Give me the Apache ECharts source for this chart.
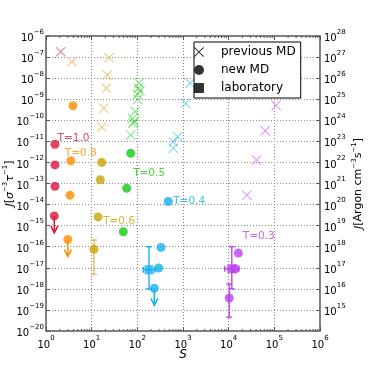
<!DOCTYPE html>
<html>
<head>
<meta charset="utf-8">
<script src="https://cdn.jsdelivr.net/npm/echarts@6/dist/echarts.min.js"></script>
<style>
  html, body { margin: 0; padding: 0; background: #fff; }
  #chart { width: 368px; height: 368px; }
</style>
</head>
<body>
<div id="chart"></div>
<script>
// temperature -> colour
const temps = ['1.0', '0.8', '0.6', '0.5', '0.4', '0.3']
const tempColors = ['#DC143C', '#FF8C00', '#C9A400', '#11CC11', '#11B0EE', '#B940EE']

// [T, S, J]
const previousMD = [
    ['1.0', 2.1, 1.8e-7],
    ['0.8', 3.7, 6e-8],
    ['0.6', 24, 9.3e-8],
    ['0.6', 22, 1.4e-8],
    ['0.6', 21, 3.3e-9],
    ['0.6', 18.3, 3.7e-10],
    ['0.6', 16.6, 4.8e-11],
    ['0.5', 109, 5.9e-9],
    ['0.5', 106, 3.4e-9],
    ['0.5', 114, 2.5e-9],
    ['0.5', 101, 1.7e-9],
    ['0.5', 102, 9.8e-10],
    ['0.5', 89, 2.6e-10],
    ['0.5', 79, 1.2e-10],
    ['0.5', 85, 8.5e-11],
    ['0.5', 80, 7.2e-11],
    ['0.5', 72, 2e-11],
    ['0.4', 1420, 5.7e-9],
    ['0.4', 1150, 6.4e-10],
    ['0.4', 765, 1.66e-11],
    ['0.4', 613, 9.5e-12],
    ['0.4', 613, 4.7e-12],
    ['0.3', 1.09e5, 5.1e-10],
    ['0.3', 6.3e4, 3.2e-11],
    ['0.3', 4.1e4, 1.3e-12],
    ['0.3', 2.5e4, 2.8e-14],
]

// [T, S, J, upper limit]
const newMD = [
    ['1.0', 1.57, 7.2e-12, 0],
    ['1.0', 1.57, 7.6e-13, 0],
    ['1.0', 1.57, 7.4e-14, 0],
    ['1.0', 1.52, 2.9e-15, 1],
    ['0.8', 3.9, 4.9e-10, 0],
    ['0.8', 3.5, 1.2e-12, 0],
    ['0.8', 3.35, 2.8e-14, 0],
    ['0.8', 3.0, 2.2e-16, 1],
    ['0.6', 16.6, 1e-12, 0],
    ['0.6', 15.5, 1.5e-13, 0],
    ['0.6', 13.8, 2.6e-15, 0],
    ['0.6', 11.2, 7.6e-17, 0],
    ['0.5', 71.6, 2.7e-12, 0],
    ['0.5', 58.5, 5.9e-14, 0],
    ['0.5', 49.3, 5.1e-16, 0],
    ['0.4', 476, 1.4e-14, 0],
    ['0.4', 330, 9.3e-17, 0],
    ['0.4', 293, 9.8e-18, 0],
    ['0.4', 235, 1.07e-18, 1],
    ['0.3', 1.63e4, 5e-17, 0],
    ['0.3', 1.4e4, 9e-18, 0],
    ['0.3', 1.03e4, 3.7e-19, 0],
]

// [T, S, J]
const laboratory = [
    ['0.4', 180, 8e-18],
    ['0.3', 1.17e4, 9e-18],
]

// vertical error bars [T, S, Jlow, Jhigh]
const yErrors = [
    ['0.6', 11.2, 4.8e-18, 2.1e-16],
    ['0.4', 180, 1e-18, 1e-16],
    ['0.3', 1.17e4, 1e-18, 1e-16],
    ['0.3', 1.03e4, 4.5e-20, 1.7e-18],
]
// horizontal error bars [T, J, Slow, Shigh]
const xErrors = [
    ['0.4', 8e-18, 135, 240],
    ['0.3', 9e-18, 8200, 1.67e4],
]

// [text, S, J]
const tLabels = [
    ['T=1.0', 1.74, 1.36e-11],
    ['T=0.8', 2.52, 2.7e-12],
    ['T=0.6', 17.4, 1.55e-15],
    ['T=0.5', 79, 2.9e-13],
    ['T=0.4', 595, 1.37e-14],
    ['T=0.3', 1.99e4, 3e-16],
]

const xMin = 1, xMax = 1e6
const yMin = 1e-20, yMax = 1e-6
const y2Min = 1e14, y2Max = 1e28

const FONT = 'DejaVu Sans'
const colorOf = t => tempColors[temps.indexOf(t)]
const crossPath = 'path://M0,0.7 L0.7,0 L5,4.3 L9.3,0 L10,0.7 L5.7,5 L10,9.3 L9.3,10 L5,5.7 L0.7,10 L0,9.3 L4.3,5 Z'
const squarePath = 'path://M0,0 L10,0 L10,10 L0,10 Z'

// minor ticks 2..9 per decade on x
const minorX = []
for (let e = 0; e < 6; e++) {
    for (let k = 2; k <= 9; k++) minorX.push([k * Math.pow(10, e), yMin])
}

const powLabel = v => {
    const e = Math.round(Math.log10(v))
    return '{b|10}{s|' + String(e).replace('-', '\u2212') + '}'
}
const tickRich = {
    b: { fontSize: 10, fontFamily: FONT, color: '#000', lineHeight: 15, verticalAlign: 'bottom' },
    s: { fontSize: 7, fontFamily: FONT, color: '#000', lineHeight: 8, verticalAlign: 'top' },
}

const chart = echarts.init(document.getElementById('chart'))

const option = {
    animation: false,
    backgroundColor: '#fff',
    grid: {
        left: 46, top: 36, right: 48, bottom: 37,
        outerBoundsMode: 'none',
        containLabel: false,
        show: true, borderColor: '#555', borderWidth: 1.5,
    },
    legend: {
        data: ['previous MD', 'new MD', 'laboratory'],
        orient: 'vertical',
        left: 194, top: 42,
        itemWidth: 34, itemHeight: 10, itemGap: 6,
        padding: [4, 5, 4, 0],
        borderColor: '#000', borderWidth: 1, backgroundColor: '#fff',
        selectedMode: false,
        textStyle: { fontSize: 12, fontFamily: FONT, color: '#000' },
    },
    xAxis: [
        {
            type: 'log', logBase: 10, min: xMin, max: xMax, interval: 1,
            name: 'S', nameLocation: 'middle', nameGap: 18, nameMoveOverlap: false,
            nameTextStyle: { fontSize: 12, fontStyle: 'italic', fontFamily: FONT, color: '#000' },
            axisLine: { show: false },
            axisTick: { inside: true, length: 4, lineStyle: { color: '#555' } },
            axisLabel: { formatter: powLabel, rich: tickRich, margin: 4 },
            splitLine: { show: true, lineStyle: { color: '#888', type: [1, 2] } },
        },
        {
            type: 'log', logBase: 10, min: xMin, max: xMax, interval: 1, position: 'top',
            axisLine: { show: false },
            axisTick: { inside: true, length: 4, lineStyle: { color: '#555' } },
            axisLabel: { show: false },
            splitLine: { show: false },
        },
    ],
    yAxis: [
        {
            type: 'log', logBase: 10, min: yMin, max: yMax, interval: 1,
            name: '{i|J}[{g|\u03c3}{s|\u22123}{g|\u03c4}{s|\u22121}]',
            nameLocation: 'middle', nameRotate: 90, nameGap: 30, nameMoveOverlap: false,
            nameTextStyle: {
                fontFamily: FONT, fontSize: 11, color: '#000',
                rich: {
                    i: { fontStyle: 'italic', fontSize: 11, fontFamily: FONT, lineHeight: 14, verticalAlign: 'bottom' },
                    g: { fontStyle: 'italic', fontSize: 11, fontFamily: FONT, lineHeight: 14, verticalAlign: 'bottom' },
                    s: { fontSize: 7, fontFamily: FONT, lineHeight: 8, verticalAlign: 'top' },
                },
            },
            axisLine: { show: false },
            axisTick: { inside: true, length: 4, lineStyle: { color: '#555' } },
            axisLabel: { formatter: powLabel, rich: tickRich, margin: 2 },
            splitLine: { show: true, lineStyle: { color: '#888', type: [1, 2] } },
        },
        {
            type: 'log', logBase: 10, min: y2Min, max: y2Max, interval: 1, position: 'right',
            name: '{i|J}[Argon cm{s|\u22123}s{s|\u22121}]',
            nameLocation: 'middle', nameRotate: 90, nameGap: 31, nameMoveOverlap: false,
            nameTextStyle: {
                fontFamily: FONT, fontSize: 11, color: '#000',
                rich: {
                    i: { fontStyle: 'italic', fontSize: 11, fontFamily: FONT, lineHeight: 14, verticalAlign: 'bottom' },
                    s: { fontSize: 7, fontFamily: FONT, lineHeight: 8, verticalAlign: 'top' },
                },
            },
            axisLine: { show: false },
            axisTick: { inside: true, length: 4, lineStyle: { color: '#555' } },
            axisLabel: { formatter: powLabel, rich: tickRich, margin: 4, showMinLabel: false },
            splitLine: { show: false },
        },
    ],
    series: [
        {
            type: 'custom',
            silent: true,
            renderItem: (params, api) => {
                const p = api.coord([api.value(0), api.value(1)])
                const cs = params.coordSys
                const st = { stroke: '#555', lineWidth: 1 }
                return {
                    type: 'group',
                    children: [
                        { type: 'line', shape: { x1: p[0], y1: cs.y + cs.height, x2: p[0], y2: cs.y + cs.height - 2 }, style: st },
                        { type: 'line', shape: { x1: p[0], y1: cs.y, x2: p[0], y2: cs.y + 2 }, style: st },
                    ],
                }
            },
            data: minorX,
            z: 1,
        },
        {
            name: 'previous MD',
            type: 'scatter',
            symbol: crossPath,
            symbolSize: 10,
            itemStyle: { color: '#000' },
            data: previousMD.map(r => ({ value: [r[1], r[2]], itemStyle: { color: colorOf(r[0]), opacity: 0.55 } })),
            z: 2,
        },
        {
            type: 'custom',
            silent: true,
            renderItem: (params, api) => {
                const t = yErrors[params.dataIndex][0]
                const lo = api.coord([api.value(0), api.value(1)])
                const hi = api.coord([api.value(0), api.value(2)])
                const st = { stroke: colorOf(t), lineWidth: 1.5, opacity: t === '0.6' ? 0.6 : 0.9 }
                return {
                    type: 'group',
                    children: [
                        { type: 'line', shape: { x1: lo[0], y1: lo[1], x2: hi[0], y2: hi[1] }, style: st },
                        { type: 'line', shape: { x1: lo[0] - 3, y1: lo[1], x2: lo[0] + 3, y2: lo[1] }, style: st },
                        { type: 'line', shape: { x1: hi[0] - 3, y1: hi[1], x2: hi[0] + 3, y2: hi[1] }, style: st },
                    ],
                }
            },
            data: yErrors.map(r => [r[1], r[2], r[3]]),
            z: 3,
        },
        {
            type: 'custom',
            silent: true,
            renderItem: (params, api) => {
                const t = xErrors[params.dataIndex][0]
                const lo = api.coord([api.value(1), api.value(0)])
                const hi = api.coord([api.value(2), api.value(0)])
                const st = { stroke: colorOf(t), lineWidth: 1.5, opacity: 0.9 }
                return {
                    type: 'group',
                    children: [
                        { type: 'line', shape: { x1: lo[0], y1: lo[1], x2: hi[0], y2: hi[1] }, style: st },
                        { type: 'line', shape: { x1: lo[0], y1: lo[1] - 3, x2: lo[0], y2: lo[1] + 3 }, style: st },
                        { type: 'line', shape: { x1: hi[0], y1: hi[1] - 3, x2: hi[0], y2: hi[1] + 3 }, style: st },
                    ],
                }
            },
            data: xErrors.map(r => [r[1], r[2], r[3]]),
            z: 3,
        },
        {
            type: 'custom',
            silent: true,
            renderItem: (params, api) => {
                const rows = newMD.filter(r => r[3])
                const c = colorOf(rows[params.dataIndex][0])
                const p = api.coord([api.value(0), api.value(1)])
                const st = { stroke: c, lineWidth: 1.5, fill: 'none' }
                return {
                    type: 'group',
                    children: [
                        { type: 'line', shape: { x1: p[0], y1: p[1], x2: p[0], y2: p[1] + 17 }, style: st },
                        { type: 'polyline', shape: { points: [[p[0] - 3.5, p[1] + 10], [p[0], p[1] + 17], [p[0] + 3.5, p[1] + 10]] }, style: st },
                    ],
                }
            },
            data: newMD.filter(r => r[3]).map(r => [r[1], r[2]]),
            z: 3,
        },
        {
            name: 'new MD',
            type: 'scatter',
            symbol: 'circle',
            symbolSize: 9,
            itemStyle: { color: '#000' },
            data: newMD.map(r => ({ value: [r[1], r[2]], itemStyle: { color: colorOf(r[0]) } })),
            z: 4,
        },
        {
            name: 'laboratory',
            type: 'scatter',
            symbol: squarePath,
            symbolSize: 9,
            itemStyle: { color: '#000' },
            data: laboratory.map(r => ({ value: [r[1], r[2]], itemStyle: { color: colorOf(r[0]) } })),
            z: 4,
        },
        {
            type: 'scatter',
            silent: true,
            symbolSize: 1,
            itemStyle: { color: 'transparent' },
            label: {
                show: true, position: 'right', distance: 0,
                fontSize: 10.5, fontFamily: FONT,
                formatter: p => p.name,
            },
            data: tLabels.map((r, i) => ({
                name: r[0], value: [r[1], r[2]],
                label: { color: tempColors[i] },
            })),
            z: 5,
        },
    ],
}

option && chart.setOption(option)
</script>
</body>
</html>
